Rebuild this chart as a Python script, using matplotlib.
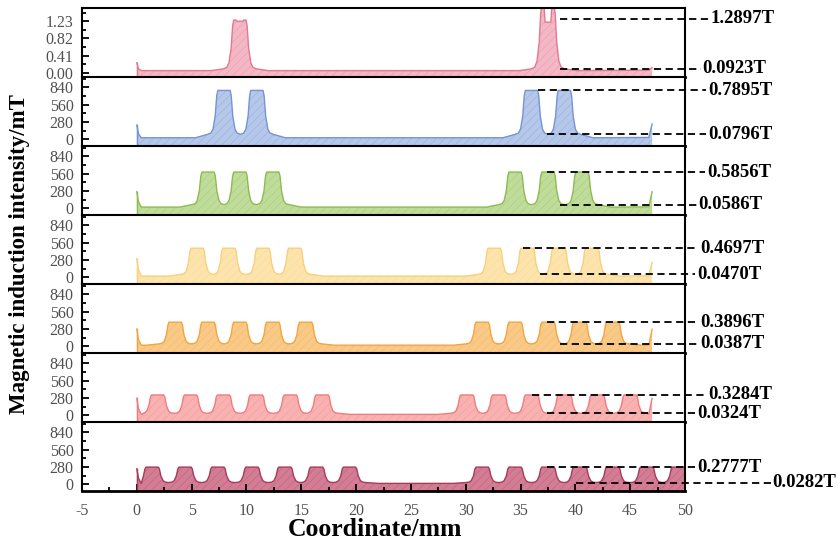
import numpy as np
import matplotlib.pyplot as plt

plt.rcParams['font.family'] = ['Liberation Serif', 'DejaVu Serif']
plt.rcParams['hatch.linewidth'] = 0.5
plt.rcParams['axes.unicode_minus'] = False

# peak centres (mm), left and right group of each panel, top to bottom
left_peaks = [[9.4], [7.95, 10.95], [6.5, 9.4, 12.4], [5.5, 8.4, 11.5, 14.4],
              [3.5, 6.5, 9.4, 12.4, 15.4], [1.9, 4.9, 7.9, 10.9, 14.0, 16.9],
              [1.4, 4.4, 7.4, 10.5, 13.5, 16.4, 19.4]]
right_peaks = [[37.5], [36.0, 39.0], [34.5, 37.5, 40.6], [32.6, 35.6, 38.5, 41.5],
               [31.5, 34.5, 37.5, 40.4, 43.4], [30.1, 33.0, 36.0, 39.0, 42.0, 45.0],
               [31.5, 34.5, 37.5, 40.4, 43.4, 46.5, 49.4]]
left_top = [1.26, 789.5, 585.6, 469.7, 389.6, 328.4, 277.7]
right_top = [1.60, 789.5, 585.6, 469.7, 389.6, 328.4, 277.7]
left_notch = [0.03, 0, 0, 0, 0, 0, 0]
right_notch = [0.39, 0, 0, 0, 0, 0, 0]
valley = [0.0923, 79.6, 58.6, 47.0, 38.7, 32.4, 28.2]
base = [0.05, 25, 20, 20, 18, 15, 15]
start_spike = [0.24, 230, 270, 300, 280, 275, 250]
end_value = [0.12, 248, 270, 243, 275, 275, 277.7]
x_end = [47, 47, 47, 47, 47, 47, 50]

# annotated values (T)
upper_T = [1.2897, 0.7895, 0.5856, 0.4697, 0.3896, 0.3284, 0.2777]
lower_T = [0.0923, 0.0796, 0.0586, 0.0470, 0.0387, 0.0324, 0.0282]
unit = [1, 1000, 1000, 1000, 1000, 1000, 1000]

# y ticks
ticks_first = [0.00, 0.41, 0.82, 1.23]
ticks_rest = [0, 280, 560, 840]

fills = ['#f2b0c0', '#adc2e8', '#bad98f', '#fde2a4', '#f9c47a', '#f9aaaa', '#cf6f8a']
lines = ['#e07a92', '#7594d2', '#8cbc52', '#f8d07e', '#f2a540', '#f07c7c', '#a83a5c']

up_start = [38.6, 36.6, 37.4, 35.2, 37.4, 36.0, 37.4]
low_start = [38.6, 37.4, 38.6, 36.8, 38.6, 37.4, 40.1]
up_lab = [52.3, 52.1, 52.0, 51.4, 51.4, 52.1, 51.1]
low_lab = [51.6, 52.1, 51.2, 51.1, 51.4, 51.1, 58.0]

# outline of one flat-topped pole peak
offs = [-1.5, -1.2, -1.0, -0.8, -0.66, -0.56, 0.56, 0.66, 0.8, 1.0, 1.2, 1.5]
frac = [0, 0.03, 0.12, 0.42, 0.88, 1, 1, 0.88, 0.42, 0.12, 0.03, 0]


def outline(i):
    xs = [0, 0.15, 0.4]
    ys = [start_spike[i], start_spike[i] * 0.4, base[i]]

    def add(x, y):
        if x > xs[-1] + 0.02 and x < x_end[i]:
            xs.append(x)
            ys.append(y)

    groups = ((left_peaks[i], left_top[i], left_notch[i]),
              (right_peaks[i], right_top[i], right_notch[i]))
    for grp, top, nd in groups:
        add(grp[0] - 2.6, base[i])
        for c in grp:
            for o, f in zip(offs, frac):
                if o == 0.56 and nd:
                    add(c - 0.36, top)
                    add(c - 0.26, top - nd)
                    add(c + 0.26, top - nd)
                    add(c + 0.36, top)
                add(c + o, valley[i] + f * (top - valley[i]))
        add(grp[-1] + 2.6, base[i])
    add(x_end[i] - 0.3, base[i] * 1.2)
    xs.append(x_end[i])
    ys.append(end_value[i])
    return np.array(xs), np.array(ys)


fig = plt.figure(figsize=(8.38, 5.42), dpi=100)
axes = fig.subplots(7, 1, sharex=True)
fig.subplots_adjust(left=82 / 838, right=685 / 838, top=1 - 8 / 542,
                    bottom=1 - 491 / 542, hspace=0)

for i, ax in enumerate(axes):
    if i == 0:
        ax.set_ylim(-0.103, 1.548)
        ax.set_yticks(ticks_first)
        ax.set_yticklabels([f'{t:.2f}' for t in ticks_first])
        ax.set_yticks([0.205, 0.615, 1.025, 1.435], minor=True)
    else:
        ax.set_ylim(-108, 1006)
        ax.set_yticks(ticks_rest)
        ax.set_yticks([140, 420, 700, 980], minor=True)
    ymin = ax.get_ylim()[0]
    x, y = outline(i)
    ax.fill_between(x, y, ymin, facecolor=fills[i], linewidth=0, alpha=0.9)
    ax.fill_between(x, y, ymin, facecolor='none', edgecolor=lines[i],
                    hatch='////', linewidth=0, alpha=0.35)
    ax.plot(x, y, color=lines[i], lw=1.0)
    ax.plot([0, 0], [ymin, start_spike[i]], color=lines[i], lw=1.0)

    # dashed annotation lines and labels
    yu = upper_T[i] * unit[i]
    yl = lower_T[i] * unit[i]
    ax.plot([up_start[i], up_lab[i] - 0.15], [yu, yu], color='black', lw=1.3,
            ls=(0, (4, 2.5)), clip_on=False)
    ax.plot([low_start[i], low_lab[i] - 0.15], [yl, yl], color='black', lw=1.3,
            ls=(0, (4, 2.5)), clip_on=False)
    ax.text(up_lab[i], yu, f'{upper_T[i]:.4f}T', fontsize=13.5, fontweight='bold',
            va='center', ha='left', clip_on=False)
    ax.text(low_lab[i], yl, f'{lower_T[i]:.4f}T', fontsize=13.5, fontweight='bold',
            va='center', ha='left', clip_on=False)

    ax.tick_params(axis='y', which='both', direction='in', labelsize=11.5,
                   labelcolor='#505050', width=1.3, pad=6)
    ax.tick_params(axis='y', which='major', length=5)
    ax.tick_params(axis='y', which='minor', length=3)
    ax.tick_params(axis='y', right=False)
    for s in ax.spines.values():
        s.set_linewidth(1.5)
    ax.spines['bottom'].set_linewidth(2.0)
    if i < 6:
        ax.tick_params(axis='x', which='both', bottom=False, top=False,
                       labelbottom=False)

ax = axes[-1]
ax.set_xlim(-5, 50)
ax.set_xticks(np.arange(-5, 51, 5))
ax.set_xticks(np.arange(-2.5, 50, 5), minor=True)
ax.tick_params(axis='x', which='both', direction='in', labelsize=11.5,
               labelcolor='#505050', width=1.3, top=False, pad=9)
ax.tick_params(axis='x', which='major', length=5)
ax.tick_params(axis='x', which='minor', length=3)

fig.text(375 / 838, 1 - 530 / 542, 'Coordinate/mm', fontsize=18.5,
         fontweight='bold', ha='center', va='center')
fig.text(20 / 838, 1 - 254 / 542, 'Magnetic induction intensity/mT',
         fontsize=16.5, fontweight='bold', ha='center', va='center', rotation=90)

fig.savefig('out.png', dpi=100)
